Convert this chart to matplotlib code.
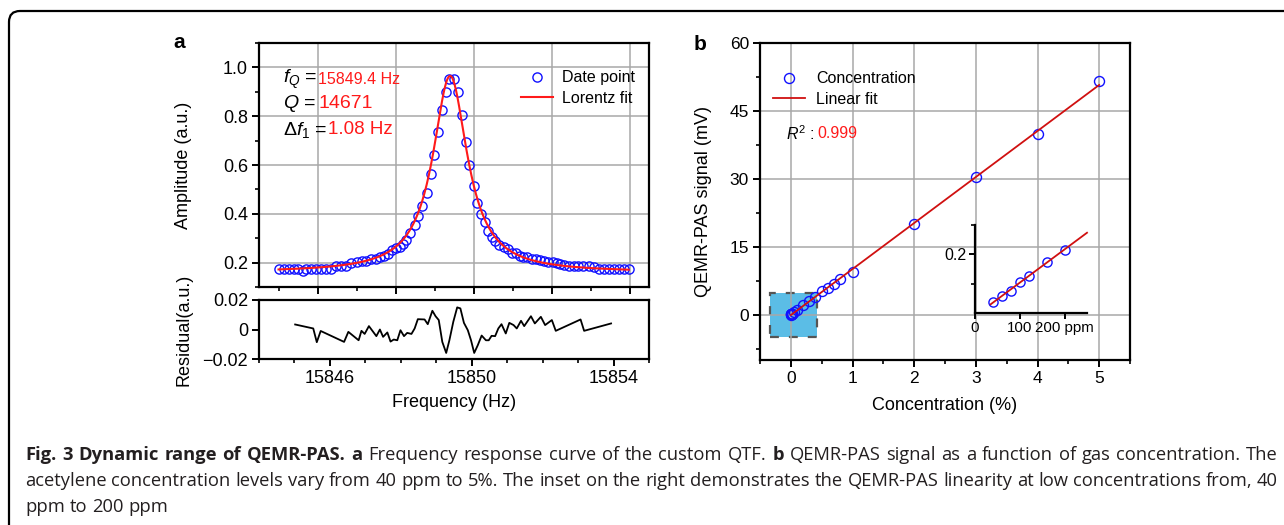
import numpy as np
import matplotlib
matplotlib.use('Agg')
import matplotlib.pyplot as plt
from matplotlib.patches import Rectangle, FancyBboxPatch
from matplotlib.ticker import MultipleLocator, FixedLocator, FixedFormatter
from matplotlib.transforms import Affine2D

W, H = 1284, 525
DPI = 100
plt.rcParams['font.family'] = ['Liberation Sans', 'DejaVu Sans']
plt.rcParams['mathtext.fontset'] = 'custom'
plt.rcParams['mathtext.rm'] = 'Liberation Sans'
plt.rcParams['mathtext.it'] = 'Liberation Sans:italic'
plt.rcParams['mathtext.bf'] = 'Liberation Sans:bold'

# ---------------- data: panel a ----------------
freq = [15845.00, 15845.13, 15845.26, 15845.39, 15845.51, 15845.63, 15845.71, 15845.84,
        15845.97, 15846.10, 15846.23, 15846.35, 15846.48, 15846.61, 15846.74, 15846.87,
        15847.00, 15847.13, 15847.25, 15847.38, 15847.51, 15847.61, 15847.70, 15847.81,
        15847.91, 15848.00, 15848.11, 15848.20, 15848.28, 15848.38, 15848.50, 15848.58,
        15848.68, 15848.80, 15848.90, 15848.99, 15849.10, 15849.20, 15849.29, 15849.37,
        15849.51, 15849.61, 15849.70, 15849.80, 15849.88, 15850.00, 15850.10, 15850.19,
        15850.30, 15850.38, 15850.47, 15850.55, 15850.66, 15850.77, 15850.88, 15850.98,
        15851.08, 15851.18, 15851.28, 15851.38, 15851.50, 15851.60, 15851.71, 15851.81,
        15851.92, 15852.03, 15852.14, 15852.22, 15852.33, 15852.44, 15852.57, 15852.69,
        15852.82, 15852.95, 15853.08, 15853.21, 15853.34, 15853.47, 15853.59, 15853.72,
        15853.85, 15853.98]
amp = [0.175, 0.175, 0.175, 0.175, 0.175, 0.164, 0.175, 0.175,
       0.175, 0.175, 0.175, 0.175, 0.186, 0.186, 0.186, 0.197,
       0.201, 0.208, 0.208, 0.214, 0.214, 0.221, 0.229, 0.236,
       0.252, 0.259, 0.263, 0.276, 0.294, 0.321, 0.356, 0.393,
       0.434, 0.486, 0.562, 0.641, 0.734, 0.824, 0.900, 0.952,
       0.952, 0.900, 0.803, 0.693, 0.599, 0.514, 0.445, 0.401,
       0.365, 0.331, 0.305, 0.287, 0.273, 0.262, 0.255, 0.241,
       0.239, 0.229, 0.225, 0.221, 0.215, 0.214, 0.211, 0.207,
       0.204, 0.201, 0.197, 0.194, 0.189, 0.186, 0.186, 0.186,
       0.186, 0.186, 0.181, 0.175, 0.175, 0.175, 0.175, 0.175,
       0.175, 0.175]

res_freq = [15845.02, 15845.53, 15845.63, 15845.74, 15846.40, 15846.52, 15846.81, 15846.89,
            15846.98, 15847.10, 15847.31, 15847.41, 15847.50, 15847.62, 15847.71, 15847.80,
            15847.90, 15847.99, 15848.09, 15848.18, 15848.30, 15848.39, 15848.48, 15848.67,
            15848.76, 15848.89, 15848.98, 15849.07, 15849.17, 15849.28, 15849.37, 15849.48,
            15849.59, 15849.68, 15849.78, 15849.89, 15849.98, 15850.07, 15850.17, 15850.28,
            15850.40, 15850.48, 15850.56, 15850.66, 15850.75, 15850.84, 15850.96, 15851.06,
            15851.18, 15851.27, 15851.39, 15851.48, 15851.67, 15851.78, 15851.95, 15852.07,
            15852.26, 15852.37, 15853.07, 15853.17, 15853.93]
res_val = [0.0034, 0.0007, -0.0086, -0.0010, -0.0084, -0.0016, -0.0073, -0.0009,
           -0.0030, 0.0023, -0.0045, 0.0000, -0.0050, -0.0020, -0.0082, -0.0068,
           -0.0073, -0.0005, -0.0045, -0.0023, -0.0030, 0.0007, 0.0070, 0.0068,
           0.0036, 0.0127, 0.0090, 0.0064, -0.0084, -0.0159, -0.0073, 0.0052,
           0.0150, 0.0143, 0.0045, -0.0005, -0.0073, -0.0159, -0.0107, -0.0041,
           -0.0073, -0.0073, -0.0043, -0.0045, 0.0007, 0.0036, -0.0027, 0.0045,
           0.0030, 0.0007, 0.0059, 0.0023, 0.0090, 0.0041, 0.0086, 0.0030,
           0.0064, -0.0009, 0.0068, -0.0009, 0.0041]

# Lorentz fit parameters (as printed on the chart) + baseline/peak
f_Q = 15849.4
Q_factor = 14671
delta_f = 1.08
fit_base = 0.160
fit_peak = 0.965

# ---------------- data: panel b ----------------
conc = [0.004, 0.006, 0.008, 0.010, 0.012, 0.016, 0.020, 0.05, 0.1, 0.2, 0.3, 0.4,
        0.5, 0.6, 0.7, 0.8, 1.0, 2.0, 3.0, 4.0, 5.0]
signal = [0.037, 0.059, 0.074, 0.107, 0.125, 0.175, 0.215, 0.5, 1.1, 2.1, 3.0, 4.0,
          5.2, 5.9, 6.8, 7.9, 9.5, 20.0, 30.3, 40.0, 51.5]
inset_ppm = [40, 60, 80, 100, 120, 160, 200]
inset_sig = [0.037, 0.059, 0.074, 0.107, 0.125, 0.175, 0.215]
r2_text = '0.999'

# ---------------- figure ----------------
fig = plt.figure(figsize=(W / DPI, H / DPI), dpi=DPI)
fig.patch.set_facecolor('white')


def fx(px):
    return px / W


def fy(py):
    return 1 - py / H


def ax_rect(l, t, r, b):
    return [fx(l), fy(b), (r - l) / W, (b - t) / H]


GRID = '#a8a8a8'
BLUE = '#1010ff'
RED_A = '#ff1a1a'
RED_B = '#d01010'
SPW = 1.6


def style_axes(ax, labelsize):
    for s in ax.spines.values():
        s.set_linewidth(SPW)
        s.set_color('black')
    ax.tick_params(which='major', direction='out', length=5, width=1.4,
                   labelsize=labelsize, top=False, right=False, pad=3)
    ax.tick_params(which='minor', direction='out', length=3, width=1.2,
                   top=False, right=False)


# ---- panel a, top ----
ax1 = fig.add_axes(ax_rect(259, 43, 649, 287))
style_axes(ax1, 13)
ax1.set_xlim(15844.5, 15854.5)
ax1.set_ylim(0.1, 1.1)
ax1.xaxis.set_major_locator(MultipleLocator(2))
ax1.xaxis.set_minor_locator(MultipleLocator(1))
ax1.yaxis.set_major_locator(FixedLocator([0.2, 0.4, 0.6, 0.8, 1.0]))
ax1.yaxis.set_major_formatter(FixedFormatter(['0.2', '0.4', '0.6', '0.8', '1.0']))
ax1.yaxis.set_minor_locator(MultipleLocator(0.1))
ax1.tick_params(labelbottom=False)
ax1.set_axisbelow(True)
ax1.grid(True, which='major', color=GRID, lw=1.1)

fgrid = np.linspace(min(freq), max(freq), 800)
fit_a = fit_base + (fit_peak - fit_base) / (1 + ((fgrid - f_Q) / (delta_f / 2)) ** 2)
ax1.plot(freq, amp, 'o', ls='none', mfc='none', mec=BLUE, ms=6.6, mew=1.0,
         label='Date point', zorder=3)
ax1.plot(fgrid, fit_a, '-', color=RED_A, lw=1.5, label='Lorentz fit', zorder=4)
ax1.set_ylabel('Amplitude (a.u.)', fontsize=13)
ax1.yaxis.set_label_coords((192 - 259) / 390, 0.5)
leg = ax1.legend(loc='upper right', bbox_to_anchor=(0.965, 0.888), frameon=False,
                 fontsize=11.5, handlelength=2.0, handletextpad=0.6,
                 labelspacing=0.35, borderaxespad=0, borderpad=0)

# annotations in panel a
ann_fs = 14
fig.text(fx(283), fy(79), r'$f_Q$ =', fontsize=ann_fs, va='center', ha='left')
fig.text(fx(318), fy(79), f'{f_Q} Hz', fontsize=11.5, color=RED_A, va='center', ha='left')
fig.text(fx(283), fy(104), r'$Q$ =', fontsize=ann_fs, va='center', ha='left')
fig.text(fx(319), fy(104), f'{Q_factor}', fontsize=14, color=RED_A, va='center', ha='left')
fig.text(fx(283), fy(130), r'$\mathit{\Delta f}_1$ =', fontsize=ann_fs, va='center', ha='left')
fig.text(fx(328), fy(130), f'{delta_f} Hz', fontsize=13.5, color=RED_A, va='center', ha='left')

# ---- panel a, residual ----
ax2 = fig.add_axes(ax_rect(259, 300, 649, 359))
style_axes(ax2, 13)
ax2.set_xlim(15844, 15855)
ax2.set_ylim(-0.02, 0.02)
ax2.xaxis.set_major_locator(FixedLocator([15846, 15850, 15854]))
ax2.xaxis.set_major_formatter(FixedFormatter(['15846', '15850', '15854']))
ax2.xaxis.set_minor_locator(MultipleLocator(1))
ax2.yaxis.set_major_locator(FixedLocator([-0.02, 0, 0.02]))
ax2.yaxis.set_major_formatter(FixedFormatter(['\u22120.02', '0', '0.02']))
ax2.plot(res_freq, res_val, '-', color='black', lw=1.3)
ax2.set_ylabel('Residual(a.u.)', fontsize=13)
ax2.yaxis.set_label_coords((192 - 259) / 390, 0.5)
ax2.set_xlabel('Frequency (Hz)', fontsize=13, labelpad=5)

# ---- panel b ----
ax3 = fig.add_axes(ax_rect(760, 43, 1130, 360))
style_axes(ax3, 12.5)
ax3.set_xlim(-0.5, 5.5)
ax3.set_ylim(-10, 60)
ax3.xaxis.set_major_locator(MultipleLocator(1))
ax3.xaxis.set_minor_locator(MultipleLocator(0.5))
ax3.yaxis.set_major_locator(MultipleLocator(15))
ax3.yaxis.set_minor_locator(MultipleLocator(7.5))
ax3.set_axisbelow(True)
ax3.grid(True, which='major', color=GRID, lw=1.1)

box = Rectangle((-0.34, -4.9), 0.77, 9.8, facecolor='#5bbde6', edgecolor='#555555',
                lw=1.6, ls=(0, (4, 4.5)), zorder=0.3)
ax3.add_patch(box)

slope, icpt = np.polyfit(conc, signal, 1)
xfit = np.array([0.0, 5.0])
ax3.plot(conc, signal, 'o', ls='none', mfc='none', mec=BLUE, ms=7.2, mew=1.0,
         label='Concentration', zorder=3)
ax3.plot(xfit, slope * xfit + icpt, '-', color=RED_B, lw=1.3, label='Linear fit', zorder=4)
ax3.set_xlabel('Concentration (%)', fontsize=13, labelpad=8)
ax3.set_ylabel('QEMR-PAS signal (mV)', fontsize=13)
ax3.yaxis.set_label_coords((712 - 760) / 370, 0.5)
ax3.legend(loc='upper left', bbox_to_anchor=(0.035, 0.911), frameon=False,
           fontsize=11.5, handlelength=2.0, handletextpad=0.7,
           labelspacing=0.35, borderaxespad=0, borderpad=0)

fig.text(fx(786), fy(134), r'$R^2$ :', fontsize=11.5, va='center', ha='left')
fig.text(fx(817), fy(134), r2_text, fontsize=11.5, color='#ff1a1a', va='center', ha='left')

# ---- inset ----
ax4 = fig.add_axes(ax_rect(975, 225, 1087, 313))
ax4.patch.set_alpha(0)
for s in ['top', 'right']:
    ax4.spines[s].set_visible(False)
for s in ['left', 'bottom']:
    ax4.spines[s].set_linewidth(SPW)
ax4.set_xlim(0, 250)
ax4.set_ylim(0, 0.3)
ax4.xaxis.set_major_locator(FixedLocator([0, 100, 200]))
ax4.xaxis.set_major_formatter(FixedFormatter(['0', '100', '200 ppm']))
ax4.yaxis.set_major_locator(FixedLocator([0.2]))
ax4.yaxis.set_major_formatter(FixedFormatter(['0.2']))
ax4.yaxis.set_minor_locator(FixedLocator([0.1, 0.3]))
ax4.tick_params(which='major', direction='out', length=4, width=1.4, labelsize=11.5, pad=2)
ax4.tick_params(axis='x', which='major', labelsize=10.8)
ax4.tick_params(which='minor', direction='out', length=3, width=1.2)
for lbl in ax4.get_xticklabels():
    if lbl.get_text() == '200 ppm':
        lbl.set_x(lbl.get_position()[0])
s4, i4 = np.polyfit(inset_ppm, inset_sig, 1)
xi = np.array([35.0, 250.0])
ax4.plot(inset_ppm, inset_sig, 'o', ls='none', mfc='none', mec=BLUE, ms=6.6, mew=1.0,
         zorder=3, clip_on=False)
ax4.plot(xi, s4 * xi + i4, '-', color=RED_B, lw=1.3, zorder=4, clip_on=False)

# panel letters
fig.text(fx(173), fy(48), 'a', fontsize=15, fontweight='bold', va='baseline', ha='left')
fig.text(fx(694), fy(50), 'b', fontsize=15, fontweight='bold', va='baseline', ha='left')

# ---- frame ----
frame_tr = Affine2D().scale(1.0 / DPI) + fig.dpi_scale_trans
frame = FancyBboxPatch((9, -60), 1400, H - 11 + 60, boxstyle='round,pad=0,rounding_size=11',
                       fill=False, edgecolor='black', lw=1.6, transform=frame_tr)
fig.add_artist(frame)

# ---- caption (justified) ----
CAP_FONT = ['Open Sans', 'DejaVu Sans']
CAP_FS = 13.2
cap_lines = [
    [('Fig.', True), ('3', True), ('Dynamic', True), ('range', True), ('of', True),
     ('QEMR-PAS.', True), ('a', True)] +
    [(w, False) for w in 'Frequency response curve of the custom QTF.'.split()] +
    [('b', True)] +
    [(w, False) for w in 'QEMR-PAS signal as a function of gas concentration. The'.split()],
    [(w, False) for w in ('acetylene concentration levels vary from 40 ppm to 5%. The inset on '
                          'the right demonstrates the QEMR-PAS linearity at low concentrations '
                          'from, 40').split()],
    [(w, False) for w in 'ppm to 200 ppm'.split()],
]
cap_base = [460, 486, 512]
cap_left, cap_right = 25, 1278
renderer = fig.canvas.get_renderer()
for li, words in enumerate(cap_lines):
    texts = []
    widths = []
    for w, b in words:
        t = fig.text(0, fy(cap_base[li]), w, fontsize=CAP_FS, family=CAP_FONT,
                     fontweight='bold' if b else 'normal', color='#231f20',
                     va='baseline', ha='left')
        texts.append(t)
        widths.append(t.get_window_extent(renderer).width)
    sp = fig.text(0, 0, 'a a', fontsize=CAP_FS, family=CAP_FONT)
    sp2 = fig.text(0, 0, 'aa', fontsize=CAP_FS, family=CAP_FONT)
    space_w = sp.get_window_extent(renderer).width - sp2.get_window_extent(renderer).width
    sp.remove()
    sp2.remove()
    if li < len(cap_lines) - 1:
        gap = (cap_right - cap_left - sum(widths)) / (len(words) - 1)
    else:
        gap = space_w
    x = cap_left
    for t, wd in zip(texts, widths):
        t.set_x(fx(x))
        x += wd + gap

fig.savefig('out.png', dpi=DPI, facecolor='white')
